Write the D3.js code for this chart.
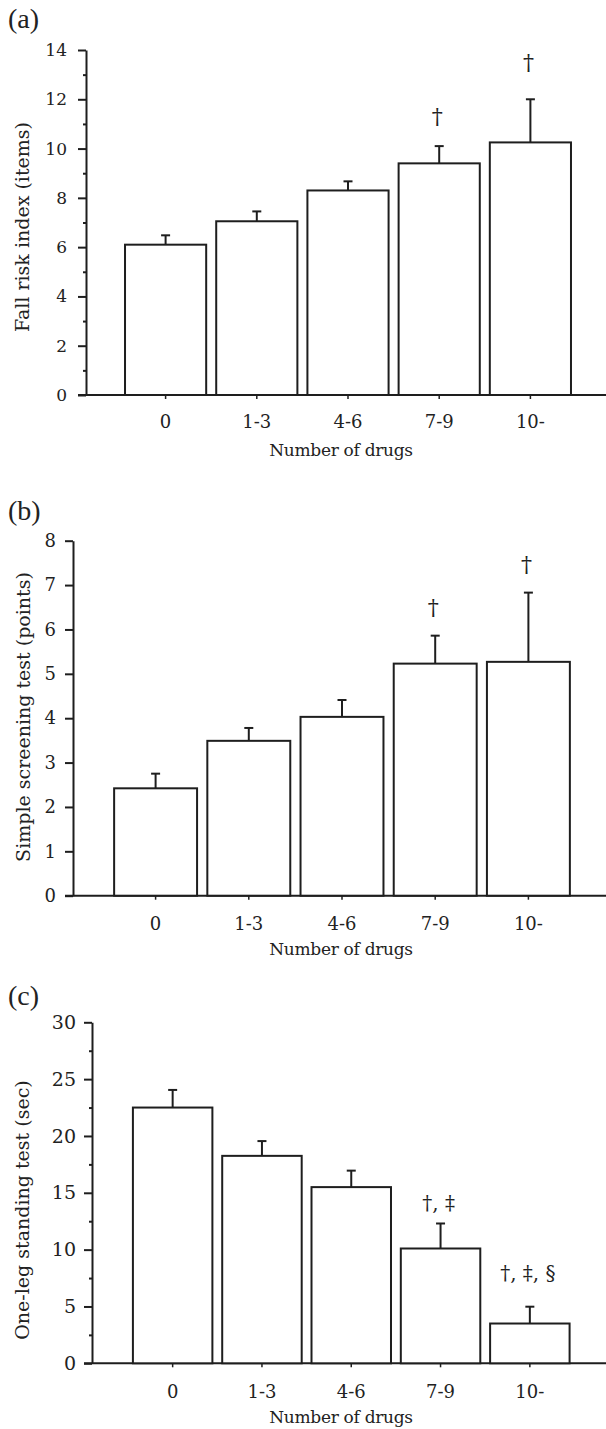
<!DOCTYPE html>
<html>
<head>
<meta charset="utf-8">
<script src="https://cdn.jsdelivr.net/npm/d3@7"></script>
<style>
  body { margin: 0; background: #fff; }
  svg text { font-family: "DejaVu Serif", serif; fill: #222; }
</style>
</head>
<body>
<div id="chart"></div>
<script>
// drug count groups (x axis, shared)
var categories = ['0', '1-3', '4-6', '7-9', '10-'];

// (a) fall risk index
var fallMean = [6.1, 7.05, 8.3, 9.4, 10.25];
var fallSE = [0.38, 0.4, 0.37, 0.7, 1.75];
var fallMarks = ['', '', '', '†', '†'];
var fallMarkAt = [0, 0, 0, 10.9, 13.1];
var fallTicks = [0, 2, 4, 6, 8, 10, 12, 14];

// (b) simple screening test
var screenMean = [2.42, 3.49, 4.03, 5.23, 5.27];
var screenSE = [0.33, 0.29, 0.38, 0.63, 1.56];
var screenMarks = ['', '', '', '†', '†'];
var screenMarkAt = [0, 0, 0, 6.28, 7.25];
var screenTicks = [0, 1, 2, 3, 4, 5, 6, 7, 8];

// (c) one-leg standing test
var legMean = [22.5, 18.25, 15.5, 10.1, 3.5];
var legSE = [1.55, 1.3, 1.45, 2.2, 1.48];
var legMarks = ['', '', '', '†, ‡', '†, ‡, §'];
var legMarkAt = [0, 0, 0, 13.3, 7.15];
var legTicks = [0, 5, 10, 15, 20, 25, 30];

var ink = '#1e1e1e';

var svg = d3.select('#chart').append('svg')
    .attr('width', 606)
    .attr('height', 1429);

function drawPanel(p) {
    var g = svg.append('g');
    var y = d3.scaleLinear().domain([0, p.max]).range([p.bottom, p.top]);
    var x = d3.scaleBand().domain(categories)
        .range([p.x0, p.x1]).paddingInner(0.11).paddingOuter(0.055);

    // minor ticks
    if (p.minor) {
        g.append('g').attr('transform', 'translate(' + p.axisX + ',0)')
            .call(d3.axisLeft(y).tickValues(p.minor).tickSize(3).tickSizeOuter(0).tickFormat(''))
            .call(function (s) { s.select('.domain').remove(); });
    }
    var ya = g.append('g').attr('transform', 'translate(' + p.axisX + ',0)')
        .call(d3.axisLeft(y).tickValues(p.ticks).tickSize(8).tickSizeOuter(0).tickPadding(p.pad));
    ya.selectAll('line, path').attr('stroke', ink).attr('stroke-width', 2);
    g.selectAll('.tick line').attr('stroke', ink).attr('stroke-width', 2);
    ya.selectAll('text').style('font-family', '"DejaVu Serif", serif')
        .style('font-size', p.tickFont + 'px').attr('fill', '#222');

    // x axis line out to right edge
    g.append('line')
        .attr('x1', p.axisX - 8).attr('x2', 606)
        .attr('y1', y(0)).attr('y2', y(0))
        .attr('stroke', ink).attr('stroke-width', 2);

    // small category ticks below the axis
    g.selectAll('.ctick').data(categories).enter().append('line')
        .attr('x1', function (d) { return x(d) + x.bandwidth() / 2; })
        .attr('x2', function (d) { return x(d) + x.bandwidth() / 2; })
        .attr('y1', y(0)).attr('y2', y(0) + 4)
        .attr('stroke', ink).attr('stroke-width', 1.5);

    g.selectAll('.clab').data(categories).enter().append('text')
        .attr('x', function (d) { return x(d) + x.bandwidth() / 2; })
        .attr('y', p.catY)
        .attr('text-anchor', 'middle')
        .style('font-size', '18px')
        .text(function (d) { return d; });

    // error bars first, bars cover the lower half
    categories.forEach(function (c, i) {
        var cx = x(c) + x.bandwidth() / 2;
        var top = y(p.mean[i] + p.se[i]);
        g.append('line').attr('x1', cx).attr('x2', cx)
            .attr('y1', y(p.mean[i])).attr('y2', top)
            .attr('stroke', ink).attr('stroke-width', 2);
        g.append('line').attr('x1', cx - 4.5).attr('x2', cx + 4.5)
            .attr('y1', top).attr('y2', top)
            .attr('stroke', ink).attr('stroke-width', 2);
        if (p.marks[i]) {
            g.append('text').attr('x', cx - 2).attr('y', y(p.markAt[i]) - 2)
                .attr('text-anchor', 'middle')
                .style('font-size', p.markFont + 'px')
                .text(p.marks[i]);
        }
    });

    g.selectAll('.bar').data(categories).enter().append('rect')
        .attr('x', function (d) { return x(d); })
        .attr('y', function (d, i) { return y(p.mean[i]); })
        .attr('width', x.bandwidth())
        .attr('height', function (d, i) { return y(0) - y(p.mean[i]); })
        .attr('fill', '#fff')
        .attr('stroke', ink).attr('stroke-width', 2);

    // titles
    g.append('text')
        .attr('transform', 'translate(' + p.ylabX + ',' + p.ylabY + ') rotate(-90)')
        .attr('text-anchor', 'middle').attr('dy', '0.35em')
        .style('font-size', '19px')
        .text(p.ylabel);
    g.append('text')
        .attr('x', 341).attr('y', p.xlabY)
        .attr('text-anchor', 'middle')
        .style('font-size', '17px').style('letter-spacing', '-0.3px')
        .text('Number of drugs');
    g.append('text')
        .attr('x', 8).attr('y', p.tagY)
        .style('font-family', '"Liberation Serif", serif')
        .style('font-size', '28px')
        .text(p.tag);
}

drawPanel({
    tag: '(a)', tagY: 28,
    mean: fallMean, se: fallSE, marks: fallMarks, markAt: fallMarkAt, markFont: 22,
    max: 14, ticks: fallTicks, minor: d3.range(1, 14, 2),
    top: 50, bottom: 395, axisX: 86, x0: 120, x1: 576,
    pad: 11, tickFont: 17,
    catY: 428, xlabY: 456,
    ylabel: 'Fall risk index (items)', ylabX: 22, ylabY: 227
});

drawPanel({
    tag: '(b)', tagY: 520,
    mean: screenMean, se: screenSE, marks: screenMarks, markAt: screenMarkAt, markFont: 22,
    max: 8, ticks: screenTicks, minor: null,
    top: 540.7, bottom: 895.7, axisX: 73, x0: 109, x1: 575,
    pad: 9, tickFont: 18,
    catY: 930, xlabY: 955,
    ylabel: 'Simple screening test (points)', ylabX: 23, ylabY: 717
});

drawPanel({
    tag: '(c)', tagY: 1005,
    mean: legMean, se: legSE, marks: legMarks, markAt: legMarkAt, markFont: 20,
    max: 30, ticks: legTicks, minor: [2.5, 7.5, 12.5, 17.5, 22.5, 27.5],
    top: 1022.3, bottom: 1363.3, axisX: 92, x0: 128, x1: 574.5,
    pad: 8, tickFont: 19,
    catY: 1398, xlabY: 1423,
    ylabel: 'One-leg standing test (sec)', ylabX: 22, ylabY: 1210
});
</script>
</body>
</html>
